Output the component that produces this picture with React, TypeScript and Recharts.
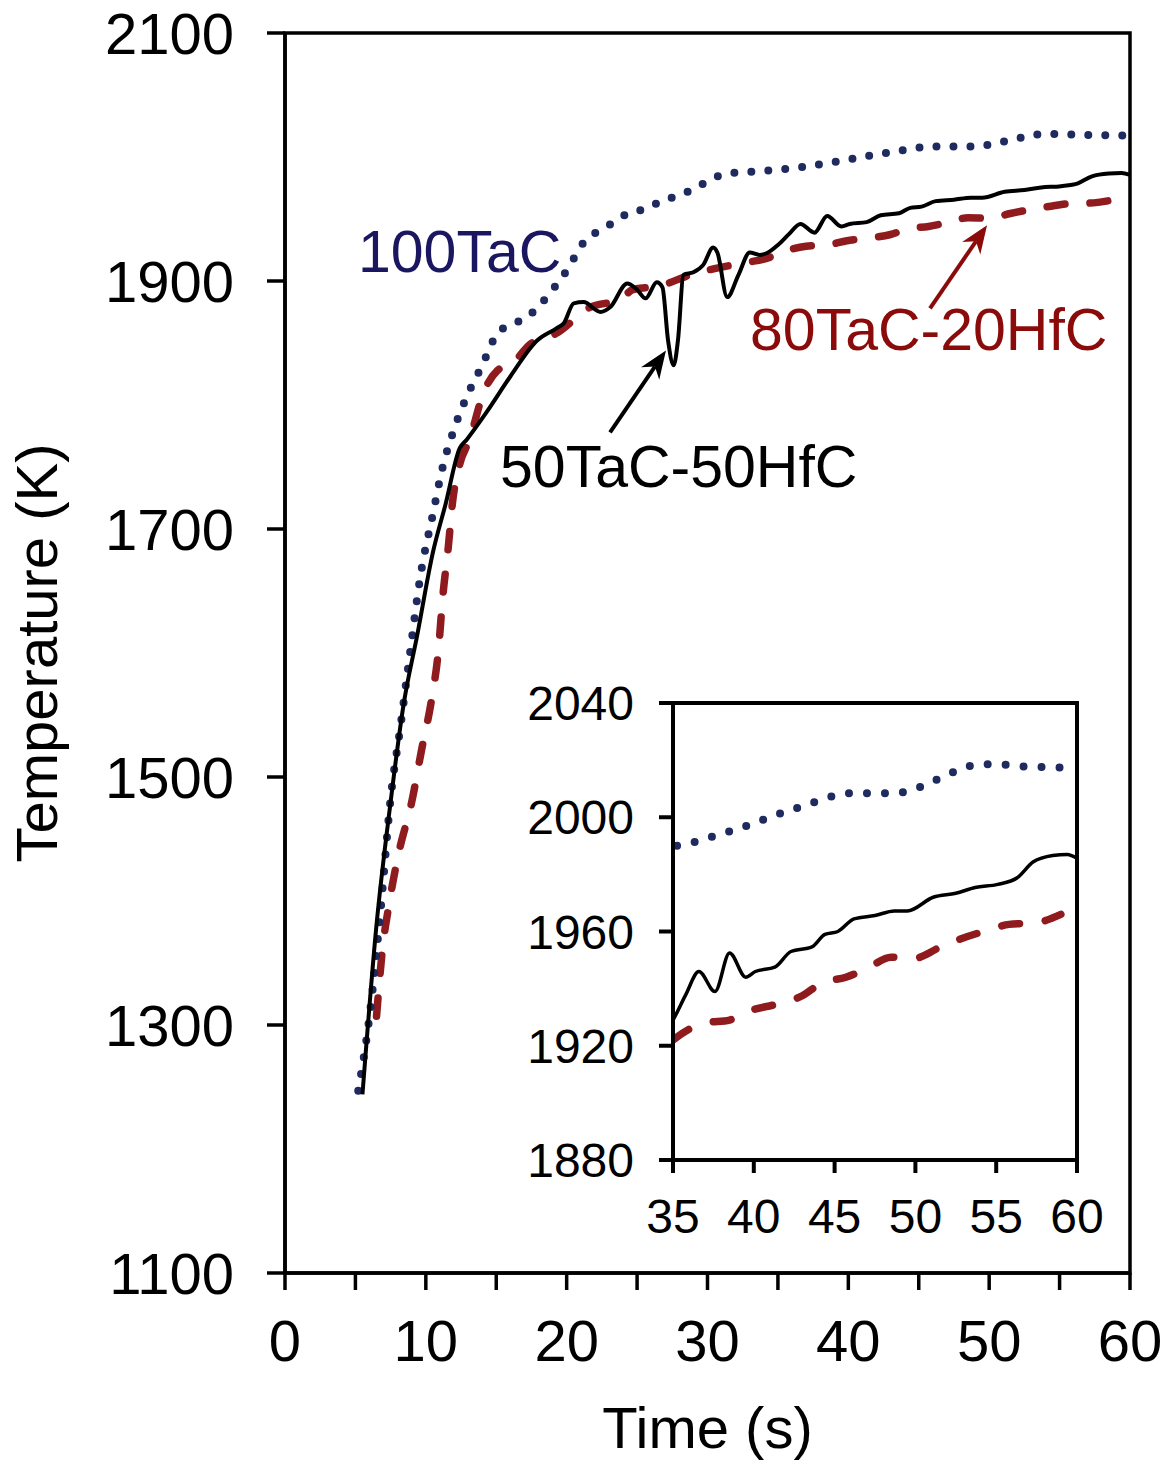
import {
  LineChart,
  Line,
  XAxis,
  YAxis,
  ReferenceArea,
  ReferenceLine,
  ReferenceDot,
  Label,
} from 'recharts';

const FONT = '"Liberation Sans", Arial, Helvetica, sans-serif';

const NAVY = '#1f2a5e';
const NAVY_TEXT = '#1a1660';
const RED = '#8f1b1f';
const RED_TEXT = '#8b0a0a';

// 100TaC (dotted)
const tac100Time = [
  5.2, 6.0, 6.8, 7.5, 8.2, 8.9, 9.6, 10.5, 11.2, 11.9, 12.8, 14.0, 15.1, 16.1, 17.2, 18.2, 19.0, 19.8,
  20.5, 21.2, 22.2, 23.3, 24.4, 25.6, 26.8, 28.0, 29.3, 30.4, 31.6, 32.9, 34.2, 35.2, 36.5, 37.6, 38.7,
  39.8, 40.8, 41.9, 43.0, 44.1, 45.1, 46.3, 47.4, 48.5, 49.7, 50.8, 51.8, 52.9, 53.9, 55.1, 56.2, 57.4,
  58.5, 59.6,
];
const tac100Temp = [
  1247, 1307, 1394, 1483, 1541, 1602, 1661, 1712, 1750, 1777, 1804, 1832, 1858, 1865, 1871, 1882, 1893,
  1905, 1918, 1931, 1940, 1947, 1955, 1958, 1965, 1969, 1976, 1983, 1987, 1988, 1989, 1990, 1991.6,
  1993.5, 1995.4, 1997.5, 1999.6, 2001.9, 2003.8, 2006, 2007.7, 2008.5, 2008.4, 2008.4, 2009.4, 2011.9,
  2014.4, 2017.1, 2018.5, 2018.6, 2017.9, 2017.6, 2017.5, 2017.2,
];

// 50TaC-50HfC (solid)
const tac50Time = [
  5.5, 6.5, 7.5, 8.4, 9.4, 10.5, 11.4, 12.4, 12.9, 14.3, 16.0, 17.9, 19.3, 19.8, 20.5, 21.2, 22.4, 23.1,
  24.3, 25.0, 25.6, 26.4, 26.8, 27.2, 27.6, 27.9, 28.3, 29.0, 29.7, 30.4, 30.7, 31.4, 32.2, 33.0, 33.7,
  34.3, 35.0, 35.8, 36.6, 37.6, 38.5, 39.5, 40.1, 41.3, 42.3, 43.6, 44.4, 45.2, 46.2, 47.5, 48.7, 49.5,
  51.1, 52.5, 53.7, 55.1, 56.3, 57.3, 58.5, 59.4, 60.0,
];
const tac50Temp = [
  1244, 1381, 1480, 1557, 1615, 1681, 1720, 1765, 1772, 1794, 1823, 1852, 1862, 1866, 1882, 1883, 1875,
  1879, 1898, 1893, 1886, 1899, 1895, 1852, 1832, 1852, 1905, 1907, 1913, 1927, 1923, 1887, 1905, 1923,
  1921, 1923, 1929, 1938, 1946, 1939, 1952.5, 1944, 1946, 1947.5, 1953, 1954.6, 1959, 1960, 1964.4,
  1965.6, 1967.2, 1967.2, 1972, 1973.4, 1975.4, 1976.5, 1978.8, 1984.4, 1986.6, 1987, 1985.6,
];

// 80TaC-20HfC (dashed)
const tac80Time = [
  6.5, 6.9, 7.4, 8.1, 9.0, 9.7, 10.4, 10.9, 11.2, 11.6, 11.9, 12.4, 13.1, 14.1, 15.1, 16.2, 17.3, 19.3,
  21.7, 23.8, 24.7, 26.6, 28.8, 30.5, 32.8, 34.4, 35.0, 37.0, 38.5, 39.9, 41.3, 43.0, 44.2, 45.7, 47.0,
  48.5, 49.9, 51.5, 52.7, 54.4, 55.8, 57.4, 59.0,
];
const tac80Temp = [
  1307, 1359, 1398, 1440, 1480, 1522, 1562, 1603, 1645, 1686, 1722, 1752, 1772, 1810, 1828, 1834, 1848,
  1858, 1879, 1885, 1893, 1896, 1905, 1910, 1915, 1919, 1922, 1928, 1929, 1932.5, 1934.4, 1937.5, 1942,
  1944, 1947, 1951, 1950.6, 1954.4, 1957.2, 1960.3, 1962.5, 1963, 1966,
];

const mainTimeTicks = [0, 5, 10, 15, 20, 25, 30, 35, 40, 45, 50, 55, 60];
const mainTempTicks = [1100, 1300, 1500, 1700, 1900, 2100];
const insetTimeTicks = [35, 40, 45, 50, 55, 60];
const insetTempTicks = [1880, 1920, 1960, 2000, 2040];

const zip = (ts: number[], vs: number[]) => ts.map((t, i) => ({ t, T: vs[i] }));

const tac100 = zip(tac100Time, tac100Temp);
const tac50 = zip(tac50Time, tac50Temp);
const tac80 = zip(tac80Time, tac80Temp);

function ArrowShape(props: any) {
  const { x1, y1, x2, y2, color } = props;
  const ang = Math.atan2(y2 - y1, x2 - x1);
  const len = 28;
  const half = 11;
  const bx = x2 - len * Math.cos(ang);
  const by = y2 - len * Math.sin(ang);
  const px = -Math.sin(ang) * half;
  const py = Math.cos(ang) * half;
  const notchX = x2 - len * 0.7 * Math.cos(ang);
  const notchY = y2 - len * 0.7 * Math.sin(ang);
  return (
    <g>
      <line x1={x1} y1={y1} x2={notchX} y2={notchY} stroke={color} strokeWidth={4} />
      <polygon
        points={`${x2},${y2} ${bx + px},${by + py} ${notchX},${notchY} ${bx - px},${by - py}`}
        fill={color}
      />
    </g>
  );
}

function textShape(value: string, color: string) {
  return (p: any) => (
    <text x={p.cx} y={p.cy} fill={color} fontSize={59} fontFamily={FONT}>
      {value}
    </text>
  );
}

const tickStyle = { fill: '#000', fontSize: 58, fontFamily: FONT };
const insetTickStyle = { fill: '#000', fontSize: 48, fontFamily: FONT };

export default function App() {
  return (
    <div style={{ position: 'absolute', left: 0, top: 0, width: 1171, height: 1460, background: '#fff' }}>
      <LineChart width={1171} height={1460} margin={{ top: 33, right: 41, left: 0, bottom: 0 }}>
        <XAxis
          dataKey="t"
          type="number"
          domain={[0, 60]}
          ticks={mainTimeTicks}
          interval={0}
          tickFormatter={(v: number) => (v % 10 === 0 ? String(v) : '')}
          height={187}
          tickSize={17}
          tickMargin={30}
          tick={tickStyle}
          axisLine={{ stroke: '#000', strokeWidth: 3.5 }}
          tickLine={{ stroke: '#000', strokeWidth: 3.5 }}
          allowDataOverflow
        >
          <Label
            content={(p: any) => (
              <text
                x={p.viewBox.x + p.viewBox.width / 2}
                y={1448}
                textAnchor="middle"
                fontSize={58}
                fontFamily={FONT}
                fill="#000"
              >
                Time (s)
              </text>
            )}
          />
        </XAxis>
        <YAxis
          dataKey="T"
          type="number"
          domain={[1100, 2100]}
          ticks={mainTempTicks}
          interval={0}
          width={285}
          tickSize={18}
          tickMargin={33}
          tick={tickStyle}
          axisLine={{ stroke: '#000', strokeWidth: 3.5 }}
          tickLine={{ stroke: '#000', strokeWidth: 3.5 }}
          allowDataOverflow
        >
          <Label
            content={(p: any) => {
              const cy = p.viewBox.y + p.viewBox.height / 2;
              return (
                <text
                  x={57}
                  y={cy}
                  transform={`rotate(-90, 57, ${cy})`}
                  textAnchor="middle"
                  fontSize={58}
                  fontFamily={FONT}
                  fill="#000"
                >
                  Temperature (K)
                </text>
              );
            }}
          />
        </YAxis>
        <ReferenceArea x1={0} x2={60} y1={1100} y2={2100} fill="none" stroke="#000" strokeWidth={3.5} />
        <Line
          data={tac80}
          dataKey="T"
          type="monotone"
          stroke={RED}
          strokeWidth={7.5}
          strokeDasharray="18 25"
          strokeLinecap="round"
          dot={false}
          isAnimationActive={false}
        />
        <Line
          data={tac100}
          dataKey="T"
          type="monotone"
          stroke={NAVY}
          strokeWidth={8}
          strokeDasharray="0 17"
          strokeLinecap="round"
          dot={false}
          isAnimationActive={false}
        />
        <Line
          data={tac50}
          dataKey="T"
          type="monotone"
          stroke="#000"
          strokeWidth={4}
          dot={false}
          isAnimationActive={false}
        />
        <ReferenceLine
          segment={[{ x: 23.08, y: 1778 }, { x: 27.05, y: 1844 }]}
          shape={(p: any) => <ArrowShape {...p} color="#000" />}
        />
        <ReferenceLine
          segment={[{ x: 45.8, y: 1878 }, { x: 49.85, y: 1945 }]}
          shape={(p: any) => <ArrowShape {...p} color={RED_TEXT} />}
        />
        <ReferenceDot x={5.18} y={1907} r={0} shape={textShape('100TaC', NAVY_TEXT)} />
        <ReferenceDot x={15.27} y={1734} r={0} shape={textShape('50TaC-50HfC', '#000')} />
        <ReferenceDot x={33.02} y={1844} r={0} shape={textShape('80TaC-20HfC', RED_TEXT)} />
      </LineChart>

      <div style={{ position: 'absolute', left: 500, top: 670, width: 630, height: 600 }}>
        <LineChart width={630} height={600} margin={{ top: 33, right: 53, left: 0, bottom: 0 }}>
          <XAxis
            dataKey="t"
            type="number"
            domain={[35, 60]}
            ticks={insetTimeTicks}
            interval={0}
            height={110}
            tickSize={13}
            tickMargin={26}
            tick={insetTickStyle}
            axisLine={{ stroke: '#000', strokeWidth: 4 }}
            tickLine={{ stroke: '#000', strokeWidth: 4 }}
            allowDataOverflow
          />
          <YAxis
            dataKey="T"
            type="number"
            domain={[1880, 2040]}
            ticks={insetTempTicks}
            interval={0}
            width={173}
            tickSize={14}
            tickMargin={25}
            tick={insetTickStyle}
            axisLine={{ stroke: '#000', strokeWidth: 4 }}
            tickLine={{ stroke: '#000', strokeWidth: 4 }}
            allowDataOverflow
          />
          <ReferenceArea x1={35} x2={60} y1={1880} y2={2040} fill="none" stroke="#000" strokeWidth={4} />
          <Line
            data={tac80}
            dataKey="T"
            type="monotone"
            stroke={RED}
            strokeWidth={7.5}
            strokeDasharray="18 26"
            strokeLinecap="round"
            dot={false}
            isAnimationActive={false}
          />
          <Line
            data={tac100}
            dataKey="T"
            type="monotone"
            stroke={NAVY}
            strokeWidth={8}
            strokeDasharray="0 18"
            strokeLinecap="round"
            dot={false}
            isAnimationActive={false}
          />
          <Line
            data={tac50}
            dataKey="T"
            type="monotone"
            stroke="#000"
            strokeWidth={3.5}
            dot={false}
            isAnimationActive={false}
          />
        </LineChart>
      </div>
    </div>
  );
}
